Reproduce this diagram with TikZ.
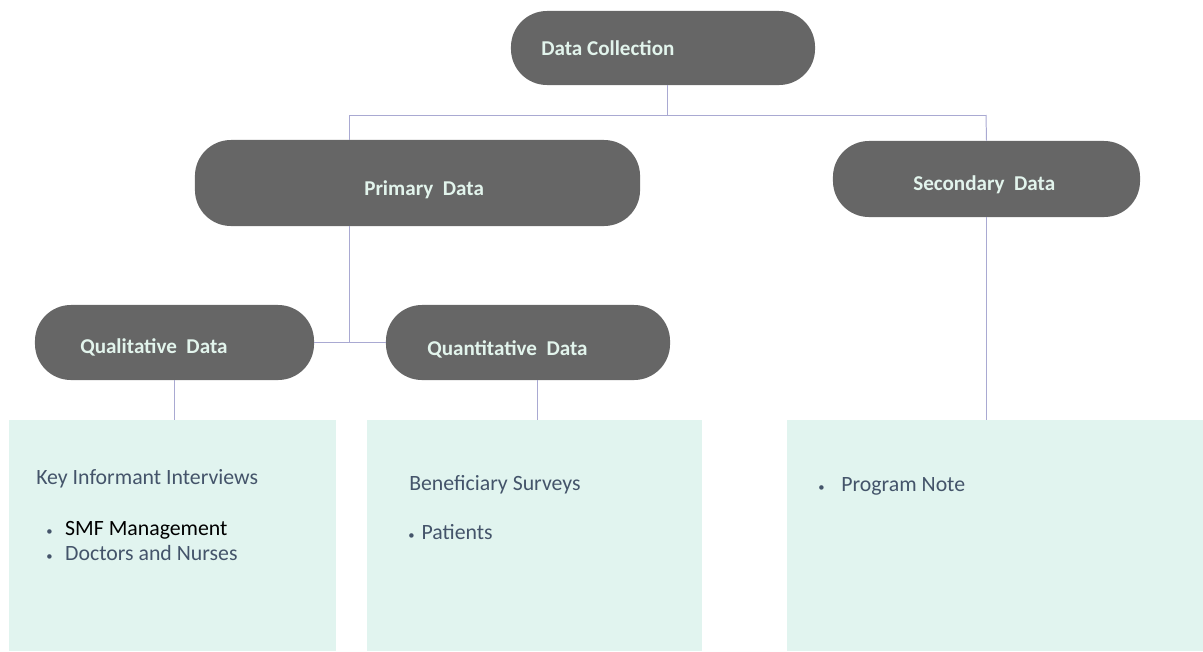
\documentclass[tikz,border=0pt]{standalone}
\usepackage{fontspec}
\setmainfont{Carlito}
\usepackage{xcolor}
\usepackage{tikz}
\usetikzlibrary{positioning}

\definecolor{pillgray}{HTML}{666666}
\definecolor{pillink}{HTML}{E2F4EC}
\definecolor{wirelav}{HTML}{A9A9D2}
\definecolor{mintpanel}{HTML}{E1F4EF}
\definecolor{slateink}{HTML}{44546A}

\tikzset{
  pill/.style={fill=pillgray, rounded corners=0.9cm, inner sep=0pt},
  pilllabel/.style={anchor=base west, inner sep=0pt, text=pillink, font=\bfseries\fontsize{15}{17}\selectfont},
  wire/.style={draw=wirelav, line width=0.7pt},
  panel/.style={fill=mintpanel, inner sep=0pt},
  paneltext/.style={anchor=base west, inner sep=0pt, text=slateink, font=\fontsize{15.5}{18}\selectfont},
}
\newcommand{\dotitem}{{\fontsize{9}{9}\selectfont\textcolor{slateink}{\textbullet}}}

\begin{document}
\begin{tikzpicture}[x=0.025cm, y=-0.025cm]
\useasboundingbox (0,0) rectangle (1203,651);

% rounded boxes
\node[pill, minimum width=7.6cm, minimum height=1.85cm] (collect) at (663,48) {};
\node[pill, minimum width=11.125cm, minimum height=2.15cm] (primary) at (417.5,183) {};
\node[pill, minimum width=7.675cm, minimum height=1.9cm] (secondary) at (986.5,179) {};
\node[pill, minimum width=6.975cm, minimum height=1.875cm] (qual) at (174.5,342.5) {};
\node[pill, minimum width=7.1cm, minimum height=1.875cm] (quant) at (528,342.5) {};

\node[pilllabel] (collectlbl) at (541,55) {Data Collection};
\node[pilllabel] (primarylbl) at (364,195) {Primary\ \ Data};
\node[pilllabel] (secondarylbl) at (913,190) {Secondary\ \ Data};
\node[pilllabel] (quallbl) at (80,353) {Qualitative\ \ Data};
\node[pilllabel] (quantlbl) at (427,355) {Quantitative\ \ Data};

% panels
\node[panel, minimum width=8.175cm, minimum height=5.775cm] (keypanel) at (172.5,535.5) {};
\node[panel, minimum width=8.35cm, minimum height=5.775cm] (survpanel) at (534.5,535.5) {};
\node[panel, minimum width=10.4cm, minimum height=5.775cm] (notepanel) at (995,535.5) {};

\node[paneltext] (keyhead) at (36,484) {Key Informant Interviews};
\node[paneltext, text=black] (smf) at (46,535) {\dotitem\hspace{9pt}SMF Management};
\node[paneltext] (docs) at (46,560) {\dotitem\hspace{9pt}Doctors and Nurses};
\node[paneltext] (survhead) at (409,490) {Beneficiary Surveys};
\node[paneltext] (patients) at (408,539) {\dotitem\hspace{5pt}Patients};
\node[paneltext] (prognote) at (818,491) {\dotitem\hspace{12pt}Program Note};

% connectors
\coordinate (hub) at (667,115);
\coordinate (plink) at (349,115);
\coordinate (slink) at (986,115);
\coordinate (qlink) at (537,420);
\draw[wire] (collect.south -| hub) -- (hub);
\draw[wire] (plink) -- (slink);
\draw[wire] (plink) -- (plink |- primary.north);
\draw[wire] (slink) -- (secondary.north);
\draw[wire] (primary.south -| plink) -- (plink |- qual.east);
\draw[wire] (qual.east) -- (quant.west);
\draw[wire] (qual.south) -- (qual.south |- keypanel.north);
\draw[wire] (quant.south -| qlink) -- (qlink);
\draw[wire] (secondary.south) -- (secondary.south |- notepanel.north);
\end{tikzpicture}
\end{document}
